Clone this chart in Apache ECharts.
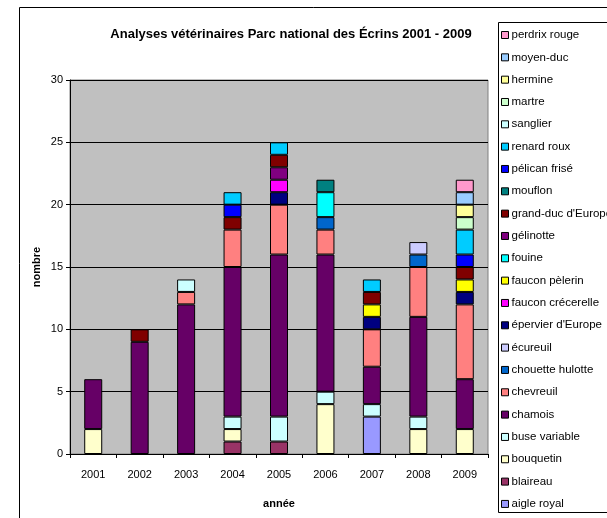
<!DOCTYPE html>
<html><head><meta charset="utf-8">
<script src="https://cdn.jsdelivr.net/npm/echarts@6/dist/echarts.min.js"></script>
<style>html,body{margin:0;padding:0;background:#fff}#c{width:607px;height:518px}</style>
</head><body><div id="c"></div>
<script>
const years = ['2001','2002','2003','2004','2005','2006','2007','2008','2009'];
const species = ['aigle royal','blaireau','bouquetin','buse variable','chamois','chevreuil','chouette hulotte','écureuil',"épervier d'Europe",'faucon crécerelle','faucon pèlerin','fouine','gélinotte',"grand-duc d'Europe",'mouflon','pélican frisé','renard roux','sanglier','martre','hermine','moyen-duc','perdrix rouge'];
const colors = ['#9999FF','#993366','#FFFFCC','#CCFFFF','#660066','#FF8080','#0066CC','#CCCCFF','#000080','#FF00FF','#FFFF00','#00FFFF','#800080','#800000','#008080','#0000FF','#00CCFF','#CCFFFF','#CCFFCC','#FFFF99','#99CCFF','#FF99CC'];
// values per species, one per year 2001..2009
const aigleRoyal      = [0,0,0,0,0,0,3,0,0];
const blaireau        = [0,0,0,1,1,0,0,0,0];
const bouquetin       = [2,0,0,1,0,4,0,2,2];
const buseVariable    = [0,0,0,1,2,1,1,1,0];
const chamois         = [4,9,12,12,13,11,3,8,4];
const chevreuil       = [0,0,1,3,4,2,3,4,6];
const chouetteHulotte = [0,0,0,0,0,1,0,1,0];
const ecureuil        = [0,0,0,0,0,0,0,1,0];
const epervier        = [0,0,0,0,1,0,1,0,1];
const fauconCrecerelle= [0,0,0,0,1,0,0,0,0];
const fauconPelerin   = [0,0,0,0,0,0,1,0,1];
const fouine          = [0,0,0,0,0,2,0,0,0];
const gelinotte       = [0,0,0,0,1,0,0,0,0];
const grandDuc        = [0,1,0,1,1,0,1,0,1];
const mouflon         = [0,0,0,0,0,1,0,0,0];
const pelicanFrise    = [0,0,0,1,0,0,0,0,1];
const renardRoux      = [0,0,0,1,1,0,1,0,2];
const sanglier        = [0,0,1,0,0,0,0,0,0];
const martre          = [0,0,0,0,0,0,0,0,1];
const hermine         = [0,0,0,0,0,0,0,0,1];
const moyenDuc        = [0,0,0,0,0,0,0,0,1];
const perdrixRouge    = [0,0,0,0,0,0,0,0,1];
const values = [aigleRoyal,blaireau,bouquetin,buseVariable,chamois,chevreuil,chouetteHulotte,ecureuil,epervier,fauconCrecerelle,fauconPelerin,fouine,gelinotte,grandDuc,mouflon,pelicanFrise,renardRoux,sanglier,martre,hermine,moyenDuc,perdrixRouge];
const yTicks = [0,5,10,15,20,25,30];

const FONT = 'Liberation Sans, Arial, sans-serif';
const chart = echarts.init(document.getElementById('c'), null, {renderer:'canvas'});
const series = species.map((name,i)=>({
  name, type:'bar', stack:'total', barWidth:18,
  itemStyle:{color:colors[i], borderColor:'#000', borderWidth:1},
  emphasis:{disabled:true},
  data: values[i].map(v => v === 0 ? '-' : v)
}));
chart.setOption({
  animation:false,
  textStyle:{fontFamily:FONT},
  title:{text:'Analyses vétérinaires Parc national des Écrins 2001 - 2009', left:286, top:23, textAlign:'center',
    textStyle:{fontSize:13, fontWeight:'bold', color:'#000', fontFamily:FONT}},
  graphic:[
    {type:'rect', shape:{x:19.5,y:7.5,width:700,height:600}, style:{fill:'none', stroke:'#000', lineWidth:1}, silent:true, z:-1},
    {type:'rect', shape:{x:498.5,y:22.5,width:200,height:490}, style:{fill:'#fff', stroke:'#000', lineWidth:1}, silent:true, z:0}
  ],
  legend:{orient:'vertical', left:501, top:28, padding:0, itemWidth:7, itemHeight:7, itemGap:8.33, selectedMode:false,
    data: species.slice().reverse(),
    icon:'rect',
    itemStyle:{borderColor:'#000', borderWidth:1},
    textStyle:{fontSize:11.5, color:'#000', fontFamily:FONT, padding:[0,0,0,-2], lineHeight:14}, z:5},
  grid:{left:70, top:80, right:119, bottom:64, show:true, backgroundColor:'#C0C0C0', borderColor:'#808080', borderWidth:1},
  xAxis:{type:'category', data:years, name:'année', nameLocation:'middle', nameGap:44, nameMoveOverlap:false,
    nameTextStyle:{fontWeight:'bold', fontSize:11, color:'#000'},
    axisLine:{lineStyle:{color:'#000'}}, axisTick:{show:true, length:4, alignWithLabel:false, lineStyle:{color:'#000'}},
    axisLabel:{fontSize:11, color:'#000', margin:15}},
  yAxis:{type:'value', min:yTicks[0], max:yTicks[yTicks.length-1], interval:5, name:'nombre', nameLocation:'middle', nameGap:28, nameRotate:90, nameMoveOverlap:false,
    nameTextStyle:{fontWeight:'bold', fontSize:11, color:'#000'},
    axisLine:{show:true, lineStyle:{color:'#000'}}, axisTick:{show:true, length:4, lineStyle:{color:'#000'}},
    axisLabel:{fontSize:11, color:'#000', margin:7},
    splitLine:{lineStyle:{color:'#000', width:1}}},
  series
});
</script></body></html>
